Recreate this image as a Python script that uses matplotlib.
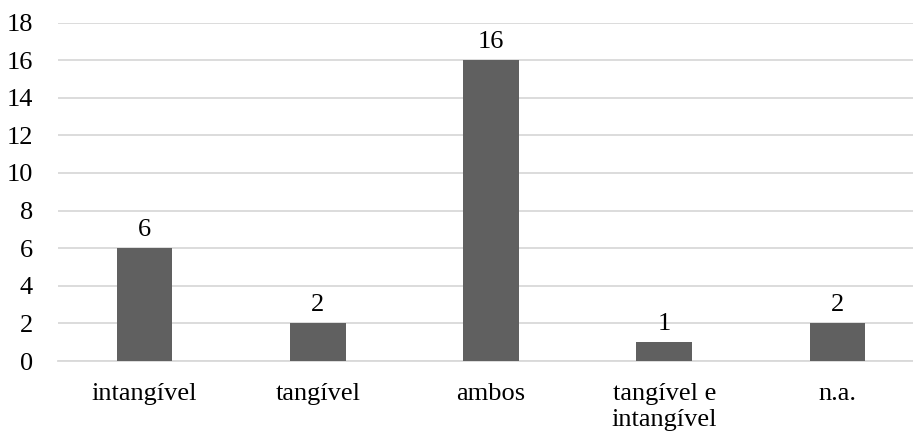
import matplotlib.pyplot as plt

categorias = ['intangível', 'tangível', 'ambos', 'tangível e\nintangível', 'n.a.']
valores = [6, 2, 16, 1, 2]
y_ticks = [0, 2, 4, 6, 8, 10, 12, 14, 16, 18]

plt.rcParams['font.family'] = ['Liberation Serif', 'DejaVu Serif']
FS = 19

fig = plt.figure(figsize=(9.13, 4.37), dpi=100)
# area do grafico (passa um pouco da borda direita, como no original)
ax = fig.add_axes([58 / 913, 1 - 361 / 437, 866 / 913, 338.5 / 437])

x = range(len(categorias))
barras = ax.bar(x, valores, width=0.32, color='#606060', zorder=3)
ax.bar_label(barras, labels=[str(v) for v in valores], padding=5, fontsize=FS)

ax.set_xlim(-0.5, len(categorias) - 0.5)
ax.set_ylim(0, 18)
ax.set_yticks(y_ticks)
ax.set_xticks(list(x))
ax.set_xticklabels(categorias, fontsize=FS, linespacing=1.2, va='top')
ax.tick_params(axis='y', length=0, pad=18, labelsize=FS)
ax.tick_params(axis='x', length=0, pad=16)

ax.grid(axis='y', color='#d9d9d9', linewidth=1.3, zorder=0)
for s in ['top', 'right', 'left']:
    ax.spines[s].set_visible(False)
ax.spines['bottom'].set_color('#d9d9d9')
ax.spines['bottom'].set_linewidth(1.3)

fig.savefig('out.png', dpi=100)
